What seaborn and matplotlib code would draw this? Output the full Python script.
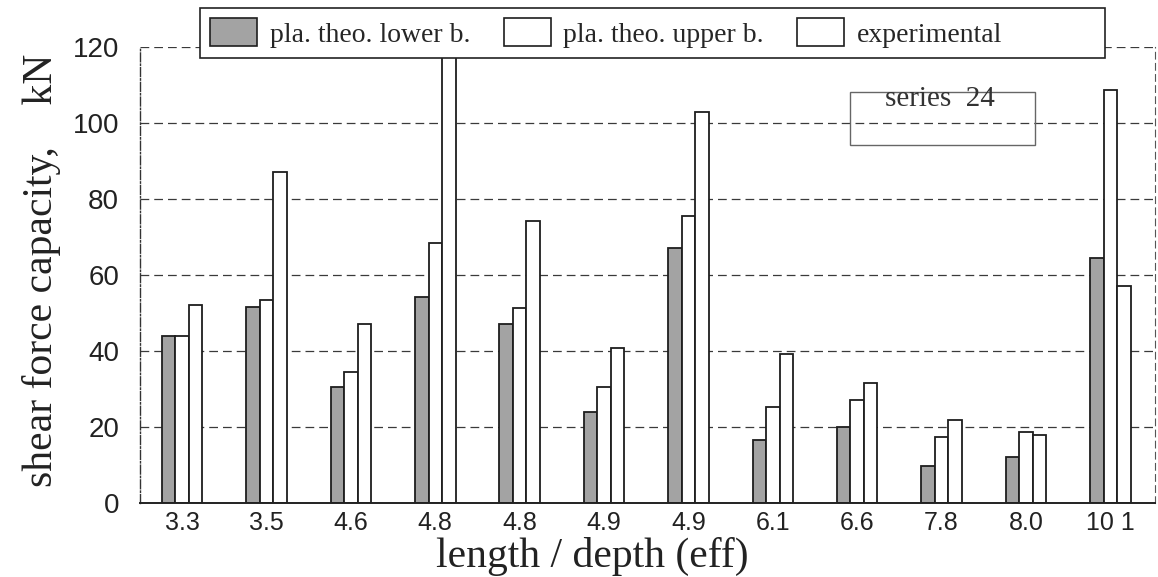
import matplotlib
matplotlib.use("Agg")
import matplotlib.pyplot as plt
import seaborn as sns
import pandas as pd
from matplotlib.patches import Rectangle, Patch

# ---- data ----
ratio_labels = ["3.3", "3.5", "4.6", "4.8", "4.8", "4.9", "4.9", "6.1", "6.6", "7.8", "8.0", "10 1"]
lower_bound = [44, 51.5, 30.5, 54.3, 47, 24, 67, 16.5, 20, 9.7, 12, 64.4]
upper_bound = [44, 53.5, 34.5, 68.4, 51.3, 30.5, 75.5, 25.3, 27, 17.4, 18.7, 108.7]
experimental = [52, 87, 47, 130, 74.2, 40.8, 103, 39.2, 31.6, 21.8, 18, 57]
series_names = ["pla. theo. lower b.", "pla. theo. upper b.", "experimental"]
series_colors = ["#a3a3a3", "#ffffff", "#ffffff"]
y_ticks = [0, 20, 40, 60, 80, 100, 120]

rows = []
for i, lab in enumerate(ratio_labels):
    for name, vals in zip(series_names, [lower_bound, upper_bound, experimental]):
        rows.append({"pos": i, "value": vals[i], "series": name})
df = pd.DataFrame(rows)

sns.set_style("white")
serif = ["Liberation Serif", "DejaVu Serif"]
sans = ["Liberation Sans", "DejaVu Sans"]
plt.rcParams["font.family"] = sans

W, H = 1158, 577
fig = plt.figure(figsize=(W / 100, H / 100), dpi=100)
ax = fig.add_axes([140 / W, 1 - 503 / H, (1155 - 140) / W, (503 - 47) / H])

sns.barplot(data=df, x="pos", y="value", hue="series", hue_order=series_names,
            palette=dict(zip(series_names, series_colors)), saturation=1,
            width=0.48, edgecolor="#1e1e1e", linewidth=1.3, ax=ax, legend=False)

ax.set_xlim(-0.5, 11.53)
ax.set_ylim(0, 120)
ax.set_xlabel("")
ax.set_ylabel("")

ax.set_yticks(y_ticks)
ax.set_yticks(range(0, 121, 10), minor=True)
ax.set_xticks(range(len(ratio_labels)))
ax.set_xticklabels(ratio_labels)
ax.set_xticks([i + 0.5 for i in range(len(ratio_labels) - 1)], minor=True)

ax.tick_params(axis="y", which="major", direction="inout", length=10, width=1,
               labelsize=20, pad=10, labelcolor="#222", color="#333")
ax.tick_params(axis="y", which="minor", direction="inout", length=8, width=1, color="#333")
ax.tick_params(axis="x", which="major", length=0, labelsize=18, pad=6, labelcolor="#222")
ax.tick_params(axis="x", which="minor", direction="inout", length=14, width=1, color="#333")

ax.yaxis.grid(True, linestyle=(0, (7, 4)), color="#3a3a3a", linewidth=0.9)
ax.set_axisbelow(True)

ax.spines["top"].set_visible(False)
ax.spines["left"].set_linestyle("-.")
ax.spines["left"].set_color("#333")
ax.spines["left"].set_linewidth(1.0)
ax.spines["bottom"].set_color("#222")
ax.spines["bottom"].set_linewidth(1.4)
ax.spines["right"].set_linestyle((0, (6, 4)))
ax.spines["right"].set_color("#555")
ax.spines["right"].set_linewidth(0.8)

# axis titles
fig.text(42 / W, 1 - 270 / H, "shear force capacity,    kN", rotation=90,
         ha="center", va="center", fontsize=30, family=serif, color="#222")
fig.text(592 / W, 1 - 567 / H, "length / depth (eff)", ha="center", va="baseline",
         fontsize=30, family=serif, color="#222")

# legend (a blank trailing column reproduces the empty space at the frame's right end)
handles = [Patch(facecolor=c, edgecolor="#1e1e1e", linewidth=1.2) for c in series_colors]
handles.append(Patch(facecolor="none", edgecolor="none"))
leg = fig.legend(handles, series_names + [""], ncol=4, loc="upper left",
                 bbox_to_anchor=(200 / W, 1 - 8 / H), frameon=True, fancybox=False,
                 edgecolor="#222", framealpha=1, prop={"family": serif, "size": 20},
                 handlelength=1.7, handleheight=1.2, columnspacing=1.2,
                 handletextpad=0.45, borderpad=0.36, borderaxespad=0)
leg.get_frame().set_linewidth(1.2)

# "series 24" box
fig.patches.append(Rectangle((850 / W, 1 - 145 / H), 185 / W, 53 / H, fill=False,
                             edgecolor="#666", linewidth=1.0, transform=fig.transFigure))
fig.text(940 / W, 1 - 99 / H, "series  24", ha="center", va="center",
         fontsize=21, family=serif, color="#333")

fig.savefig("out.png", dpi=100)
